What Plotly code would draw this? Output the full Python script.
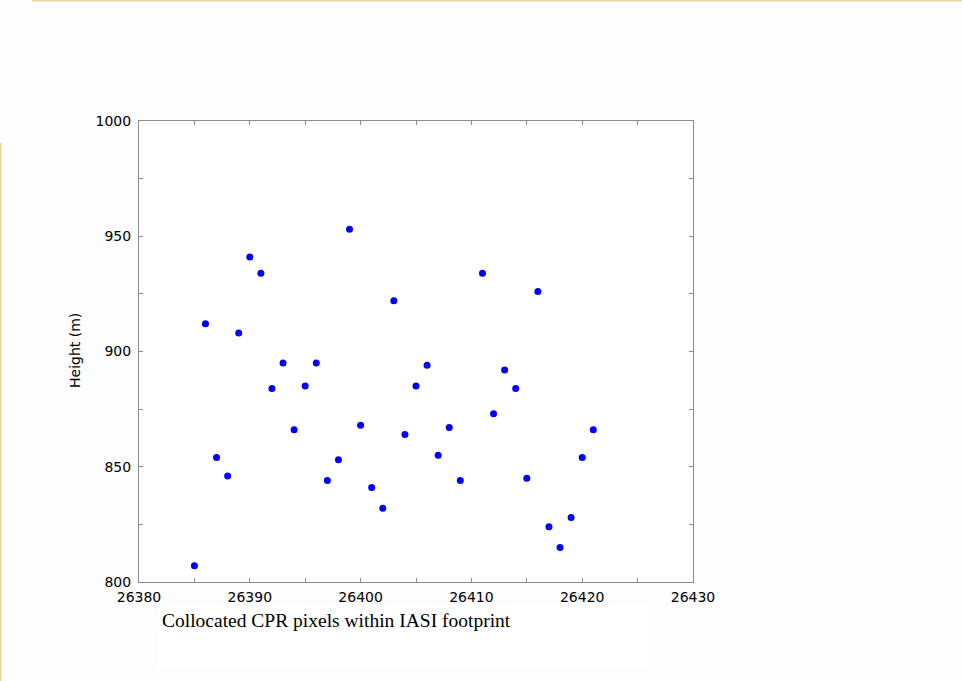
import plotly.graph_objects as go

# Collocated CPR pixel index and retrieved height (m)
pixel_index = [26385, 26386, 26387, 26388, 26389, 26390, 26391, 26392, 26393, 26394,
               26395, 26396, 26397, 26398, 26399, 26400, 26401, 26402, 26403, 26404,
               26405, 26406, 26407, 26408, 26409, 26411, 26412, 26413, 26414, 26415,
               26416, 26417, 26418, 26419, 26420, 26421]
height_m = [807, 912, 854, 846, 908, 941, 934, 884, 895, 866,
            885, 895, 844, 853, 953, 868, 841, 832, 922, 864,
            885, 894, 855, 867, 844, 934, 873, 892, 884, 845,
            926, 824, 815, 828, 854, 866]

x_ticks = [26380, 26390, 26400, 26410, 26420, 26430]
y_ticks = [800, 850, 900, 950, 1000]

W, H = 962, 681
L, R, T, B = 139, 269, 121, 99
PW, PH = W - L - R, H - T - B


def px(x):
    return (x - L) / PW


def py(y):
    return (H - B - y) / PH


fig = go.Figure(go.Scatter(
    x=pixel_index, y=height_m, mode="markers",
    marker=dict(symbol="circle", size=7, color="#0000ff", line=dict(width=0)),
    hoverinfo="x+y",
))

axis_common = dict(
    showgrid=False, zeroline=False, showline=True, linecolor="#8c8c8c", linewidth=1,
    mirror="ticks", ticks="inside", ticklen=4, tickwidth=1, tickcolor="#8c8c8c",
    tickfont=dict(family="DejaVu Sans", size=14, color="#000000"),
)

fig.update_xaxes(range=[26380, 26430], tickvals=x_ticks, ticktext=[str(v) for v in x_ticks],
                 minor=dict(dtick=5, tick0=26380, ticks="inside", ticklen=4, tickcolor="#8c8c8c"),
                 ticklabelstandoff=2, **axis_common)
fig.update_yaxes(range=[800, 1000], tickvals=y_ticks, ticktext=[str(v) for v in y_ticks],
                 minor=dict(dtick=25, tick0=800, ticks="inside", ticklen=4, tickcolor="#8c8c8c"),
                 ticklabelstandoff=4, **axis_common)

shapes = [
    # slide border strips
    dict(type="line", xref="paper", yref="paper", x0=px(32), x1=px(962), y0=py(0.5), y1=py(0.5),
         line=dict(color="#ead6a0", width=2)),
    dict(type="line", xref="paper", yref="paper", x0=px(0.5), x1=px(0.5), y0=py(143), y1=py(681),
         line=dict(color="#ead6a0", width=2)),
    # caption box
    dict(type="rect", xref="paper", yref="paper", x0=px(157), x1=px(647), y0=py(603), y1=py(667),
         fillcolor="#ffffff", line=dict(width=0), layer="below"),
]

annotations = [
    dict(text="Height (m)", xref="paper", yref="paper", x=px(75), y=py(351),
         xanchor="center", yanchor="middle", textangle=-90, showarrow=False,
         font=dict(family="DejaVu Sans", size=14, color="#000000")),
    dict(text="Collocated CPR pixels within IASI footprint", xref="paper", yref="paper",
         x=px(160), y=py(620), xanchor="left", yanchor="middle", showarrow=False,
         font=dict(family="Liberation Serif", size=19.5, color="#000000")),
]

fig.update_layout(
    width=W, height=H, margin=dict(l=L, r=R, t=T, b=B),
    paper_bgcolor="#fdfdfd", plot_bgcolor="#ffffff",
    showlegend=False, shapes=shapes, annotations=annotations,
)

fig.write_html("out.html")
